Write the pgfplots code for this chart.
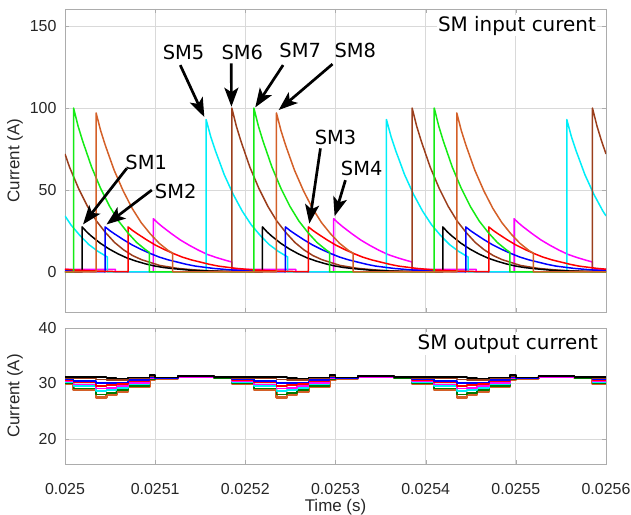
\documentclass[border=0pt]{standalone}
\usepackage{pgfplots}
\pgfplotsset{compat=1.18}
\usepackage{pgfplotstable}
\usepackage{fontspec}
\setmainfont{Liberation Sans}
\newfontfamily\dv{DejaVu Sans}
\usetikzlibrary{arrows.meta}
\definecolor{smbrown}{RGB}{155,62,28}
\definecolor{smorange}{RGB}{212,96,40}
\definecolor{smgreen}{RGB}{20,235,20}
\definecolor{smcyan}{RGB}{0,238,248}
\definecolor{smmag}{RGB}{255,0,255}
\definecolor{dkgreen}{RGB}{0,120,0}
\definecolor{tickgray}{RGB}{38,38,38}

\pgfplotstableread{
t     k1   k2   k3   k4   k5   k6   k7   k8
0     31.2 31.0 30.8 30.6 30.5 30.3 30.1 29.9
9.5   31.2 30.9 30.5 30.2 29.8 29.5 29.1 28.8
34.5  31.2 30.7 30.1 29.6 29.1 28.6 28.0 27.5
46    31.0 30.6 30.1 29.7 29.2 28.8 28.3 27.9
57    30.9 30.6 30.2 29.9 29.5 29.2 28.8 28.5
70    31.1 30.9 30.6 30.4 30.1 29.9 29.6 29.4
93.5  31.5 31.4 31.2 31.1 31.0 30.9 30.7 30.6
100   31.1 31.1 31.0 31.0 31.0 31.0 30.9 30.9
125   31.3 31.3 31.3 31.3 31.2 31.2 31.2 31.2
165   31.2 31.2 31.1 31.1 31.1 31.1 31.0 31.0
185   31.2 31.0 30.8 30.6 30.5 30.3 30.1 29.9
209.5 31.2 30.9 30.5 30.2 29.8 29.5 29.1 28.8
234.5 31.2 30.7 30.1 29.6 29.1 28.6 28.0 27.5
246   31.0 30.6 30.1 29.7 29.2 28.8 28.3 27.9
257   30.9 30.6 30.2 29.9 29.5 29.2 28.8 28.5
270   31.1 30.9 30.6 30.4 30.1 29.9 29.6 29.4
293.5 31.5 31.4 31.2 31.1 31.0 30.9 30.7 30.6
300   31.1 31.1 31.0 31.0 31.0 31.0 30.9 30.9
325   31.3 31.3 31.3 31.3 31.2 31.2 31.2 31.2
365   31.2 31.2 31.1 31.1 31.1 31.1 31.0 31.0
385   31.2 31.0 30.8 30.6 30.5 30.3 30.1 29.9
409.5 31.2 30.9 30.5 30.2 29.8 29.5 29.1 28.8
434.5 31.2 30.7 30.1 29.6 29.1 28.6 28.0 27.5
446   31.0 30.6 30.1 29.7 29.2 28.8 28.3 27.9
457   30.9 30.6 30.2 29.9 29.5 29.2 28.8 28.5
470   31.1 30.9 30.6 30.4 30.1 29.9 29.6 29.4
493.5 31.5 31.4 31.2 31.1 31.0 30.9 30.7 30.6
500   31.1 31.1 31.0 31.0 31.0 31.0 30.9 30.9
525   31.3 31.3 31.3 31.3 31.2 31.2 31.2 31.2
565   31.2 31.2 31.1 31.1 31.1 31.1 31.0 31.0
585   31.2 31.0 30.8 30.6 30.5 30.3 30.1 29.9
600   31.2 31.0 30.8 30.6 30.5 30.3 30.1 29.9
}\outtable

\pgfplotsset{
  smaxis/.style={
    scale only axis, width=541bp,
    xmin=0, xmax=600,
    xtick={0,100,200,300,400,500,600},
    grid=major,
    grid style={gray!30, line width=0.7bp},
    axis line style={gray!65},
    tick style={gray!65},
    major tick length=4bp,
    no markers,
    /pgf/number format/assume math mode=true,
    tick label style={font=\fontsize{16}{16}\selectfont, color=tickgray},
    yticklabel style={xshift=-5bp},
    label style={font=\fontsize{17}{17}\selectfont, color=tickgray},
    ylabel={Current (A)},
    ylabel style={at={(axis description cs:-0.0924,0.5)}, anchor=center, rotate=0},
    every axis plot/.append style={line join=round},
  }
}

\begin{document}
\begin{tikzpicture}
\useasboundingbox (-65bp,-203bp) rectangle (566bp,312bp);
% ---------------- top axis: SM input current
\begin{axis}[smaxis,
  at={(0,0)}, anchor=south west,
  height=303bp,
  ymin=-24.4, ymax=160.4,
  ytick={0,50,100,150},
  xticklabels={},
]
% SM4 magenta
\addplot[line width=1.5bp, color=smmag] coordinates {
(0,1.6)(56,1.6)(56,0)(98,0)(98,32.5)(103,29.9)(108,27.6)(118,23.4)(128,19.5)(138,16.25)(148,13.3)(158,10.7)(168,8.8)(178,7.15)(185,6.1)(185,1.6)(256,1.6)(256,0)
(298,0)(298,32.5)(303,29.9)(308,27.6)(318,23.4)(328,19.5)(338,16.25)(348,13.3)(358,10.7)(368,8.8)(378,7.15)(385,6.1)(385,1.6)(456,1.6)(456,0)
(498,0)(498,32.5)(503,29.9)(508,27.6)(518,23.4)(528,19.5)(538,16.25)(548,13.3)(558,10.7)(568,8.8)(578,7.15)(585,6.1)(585,1.6)(600,1.6)};
% SM5 cyan
\addplot[line width=1.5bp, color=smcyan] coordinates {
(0,34.2)(6.5,28.8)(16.5,22.3)(26.5,16.7)(36.5,12.6)(46.5,9.3)(47,9.2)(47,0)
(156.5,0)(156.5,93)(161.5,82.8)(166.5,74.4)(171.5,67)(176.5,59.5)(186.5,47.4)(196.5,37.2)(206.5,28.8)(216.5,22.3)(226.5,16.7)(236.5,12.6)(246.5,9.3)(247,9.2)(247,0)
(356.5,0)(356.5,93)(361.5,82.8)(366.5,74.4)(371.5,67)(376.5,59.5)(386.5,47.4)(396.5,37.2)(406.5,28.8)(416.5,22.3)(426.5,16.7)(436.5,12.6)(446.5,9.3)(447,9.2)(447,0)
(556.5,0)(556.5,93)(561.5,82.8)(566.5,74.4)(571.5,67)(576.5,59.5)(586.5,47.4)(596.5,37.2)(600,34.2)};
% SM6 brown
\addplot[line width=1.5bp, color=smbrown] coordinates {
(0,72)(5,64)(15,51)(25,40)(35,31)(45,24)(55,18)(65,13.5)(75,10)(85,7.5)(105,4)(125,2.2)(145,1.2)(165,0.6)(185,0.3)
(185,100)(190,89)(195,80)(200,72)(205,64)(215,51)(225,40)(235,31)(245,24)(255,18)(265,13.5)(275,10)(285,7.5)(305,4)(325,2.2)(345,1.2)(365,0.6)(385,0.3)
(385,100)(390,89)(395,80)(400,72)(405,64)(415,51)(425,40)(435,31)(445,24)(455,18)(465,13.5)(475,10)(485,7.5)(505,4)(525,2.2)(545,1.2)(565,0.6)(585,0.3)
(585,100)(590,89)(595,80)(600,72)};
% SM1 black
\addplot[line width=1.5bp, color=black] coordinates {
(0,0.17)(19,0.08)(19,27.5)(24,24.5)(29,22)(34,19.8)(39,17.6)(49,14)(59,11)(69,8.5)(79,6.6)(89,5)(99,3.7)(109,2.75)(119,2.1)(139,1.1)(159,0.6)(179,0.33)(199,0.17)(219,0.08)
(219,27.5)(224,24.5)(229,22)(234,19.8)(239,17.6)(249,14)(259,11)(269,8.5)(279,6.6)(289,5)(299,3.7)(309,2.75)(319,2.1)(339,1.1)(359,0.6)(379,0.33)(399,0.17)(419,0.08)
(419,27.5)(424,24.5)(429,22)(434,19.8)(439,17.6)(449,14)(459,11)(469,8.5)(479,6.6)(489,5)(499,3.7)(509,2.75)(519,2.1)(539,1.1)(559,0.6)(579,0.33)(599,0.17)(600,0.17)};
% SM2 blue
\addplot[line width=1.5bp, color=blue] coordinates {
(0,0.8)(4.5,0.69)(24.5,0.33)(44.5,0.14)
(44.5,27.5)(49.5,25.3)(54.5,23.4)(64.5,19.8)(74.5,16.5)(84.5,13.75)(94.5,11.3)(104.5,9.1)(114.5,7.4)(124.5,6.05)(134.5,4.7)(144.5,3.6)(164.5,2.2)(184.5,1.24)(204.5,0.69)(224.5,0.33)(244.5,0.14)
(244.5,27.5)(249.5,25.3)(254.5,23.4)(264.5,19.8)(274.5,16.5)(284.5,13.75)(294.5,11.3)(304.5,9.1)(314.5,7.4)(324.5,6.05)(334.5,4.7)(344.5,3.6)(364.5,2.2)(384.5,1.24)(404.5,0.69)(424.5,0.33)(444.5,0.14)
(444.5,27.5)(449.5,25.3)(454.5,23.4)(464.5,19.8)(474.5,16.5)(484.5,13.75)(494.5,11.3)(504.5,9.1)(514.5,7.4)(524.5,6.05)(534.5,4.7)(544.5,3.6)(564.5,2.2)(584.5,1.24)(600,0.8)};
% SM3 red
\addplot[line width=1.5bp, color=red] coordinates {
(0,1.7)(10,1.24)(30,0.69)(50,0.33)(70,0.14)
(70,27.5)(75,25.3)(80,23.4)(90,19.8)(100,16.5)(110,13.75)(120,11.3)(130,9.1)(140,7.4)(150,6.05)(160,4.7)(170,3.6)(190,2.2)(210,1.24)(230,0.69)(250,0.33)(270,0.14)
(270,27.5)(275,25.3)(280,23.4)(290,19.8)(300,16.5)(310,13.75)(320,11.3)(330,9.1)(340,7.4)(350,6.05)(360,4.7)(370,3.6)(390,2.2)(410,1.24)(430,0.69)(450,0.33)(470,0.14)
(470,27.5)(475,25.3)(480,23.4)(490,19.8)(500,16.5)(510,13.75)(520,11.3)(530,9.1)(540,7.4)(550,6.05)(560,4.7)(570,3.6)(590,2.2)(600,1.7)};
% SM7 green
\addplot[line width=1.5bp, color=smgreen] coordinates {
(0,0)(9.5,0)(9.5,100)(14.5,89)(19.5,80)(24.5,72)(29.5,64)(39.5,51)(49.5,40)(59.5,31)(69.5,24)(79.5,18)(89.5,13.5)(93.5,12)(93.5,0)
(209.5,0)(209.5,100)(214.5,89)(219.5,80)(224.5,72)(229.5,64)(239.5,51)(249.5,40)(259.5,31)(269.5,24)(279.5,18)(289.5,13.5)(293.5,12)(293.5,0)
(409.5,0)(409.5,100)(414.5,89)(419.5,80)(424.5,72)(429.5,64)(439.5,51)(449.5,40)(459.5,31)(469.5,24)(479.5,18)(489.5,13.5)(493.5,12)(493.5,0)(600,0)};
% SM8 orange
\addplot[line width=1.5bp, color=smorange] coordinates {
(0,0)(34.5,0)(34.5,97)(39.5,86.3)(44.5,77.6)(49.5,69.8)(54.5,62.1)(64.5,49.5)(74.5,38.8)(84.5,30.1)(94.5,23.3)(104.5,17.5)(114.5,13.1)(119.5,11.5)(119.5,0)
(234.5,0)(234.5,97)(239.5,86.3)(244.5,77.6)(249.5,69.8)(254.5,62.1)(264.5,49.5)(274.5,38.8)(284.5,30.1)(294.5,23.3)(304.5,17.5)(314.5,13.1)(319.5,11.5)(319.5,0)
(434.5,0)(434.5,97)(439.5,86.3)(444.5,77.6)(449.5,69.8)(454.5,62.1)(464.5,49.5)(474.5,38.8)(484.5,30.1)(494.5,23.3)(504.5,17.5)(514.5,13.1)(519.5,11.5)(519.5,0)(600,0)};

% annotations
\begin{scope}[font=\dv\fontsize{19.5}{19.5}\selectfont]
\node at (axis cs:131.5,134) {SM5};
\node at (axis cs:196.7,134) {SM6};
\node at (axis cs:260.8,135) {SM7};
\node at (axis cs:321.9,135) {SM8};
\node at (axis cs:90,66.8) {SM1};
\node at (axis cs:122.8,49.1) {SM2};
\node at (axis cs:300,82) {SM3};
\node at (axis cs:329,63) {SM4};
\end{scope}
\begin{scope}[line width=2.7bp, -{Stealth[length=19bp,width=14bp,inset=4.5bp]}]
\draw (axis cs:127.8,126.2) -- (axis cs:154.5,94.5);
\draw (axis cs:184.4,127.3) -- (axis cs:184.6,100.8);
\draw (axis cs:241.9,126.2) -- (axis cs:211,100.4);
\draw (axis cs:296.7,126.8) -- (axis cs:237,98.8);
\draw (axis cs:68.5,63.2) -- (axis cs:20,29);
\draw (axis cs:96.3,50) -- (axis cs:46,29);
\draw (axis cs:283.3,75.4) -- (axis cs:271,29.5);
\draw (axis cs:311,56) -- (axis cs:299,34);
\end{scope}
\node[anchor=north east, fill=white, inner sep=1bp, font=\dv\fontsize{20}{20}\selectfont]
  at ([xshift=-9bp,yshift=-6bp]axis description cs:1,1) {SM input curent};
\end{axis}

% ---------------- bottom axis: SM output current
\begin{axis}[smaxis,
  at={(0,-16bp)}, anchor=north west,
  height=136bp,
  ymin=15.5, ymax=40,
  ytick={20,30,40},
  xticklabels={0.025,0.0251,0.0252,0.0253,0.0254,0.0255,0.0256},
  xticklabel style={yshift=-16bp},
  xlabel={Time (s)},
  xlabel style={at={(axis description cs:0.5,0)}, anchor=center, yshift=-43bp},
]
\addplot[const plot, line width=2.4bp, color=smorange] table[x=t,y=k8] {\outtable};
\addplot[const plot, line width=1.6bp, color=dkgreen] table[x=t,y=k7] {\outtable};
\addplot[const plot, line width=1.6bp, color=smcyan] table[x=t,y=k6] {\outtable};
\addplot[const plot, line width=1.6bp, color=smmag] table[x=t,y=k5] {\outtable};
\addplot[const plot, line width=1.6bp, color=red] table[x=t,y=k4] {\outtable};
\addplot[const plot, line width=1.6bp, color=blue] table[x=t,y=k3] {\outtable};
\addplot[const plot, line width=1.6bp, color=smbrown] table[x=t,y=k2] {\outtable};
\addplot[const plot, line width=1.6bp, color=black] table[x=t,y=k1] {\outtable};
\node[anchor=north east, fill=white, inner sep=1bp, font=\dv\fontsize{20}{20}\selectfont]
  at ([xshift=-7bp,yshift=-6bp]axis description cs:1,1) {SM output current};
\end{axis}
\end{tikzpicture}
\end{document}
